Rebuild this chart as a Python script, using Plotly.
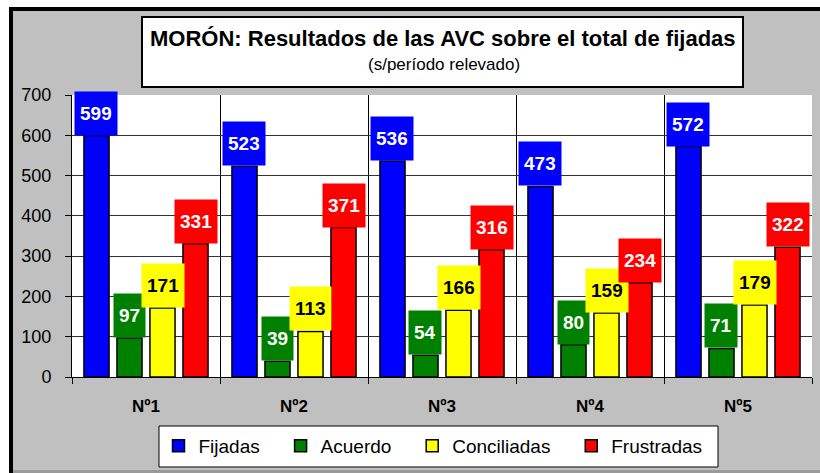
import plotly.graph_objects as go

# ---- data ----
categories = ["Nº1", "Nº2", "Nº3", "Nº4", "Nº5"]
fijadas = [599, 523, 536, 473, 572]
acuerdo = [97, 39, 54, 80, 71]
conciliadas = [171, 113, 166, 159, 179]
frustradas = [331, 371, 316, 234, 322]
series_names = ["Fijadas", "Acuerdo", "Conciliadas", "Frustradas"]
y_ticks = [0, 100, 200, 300, 400, 500, 600, 700]

title_text = "MORÓN: Resultados de las AVC sobre el total de fijadas"
subtitle_text = "(s/período relevado)"

# ---- style ----
colors = ["#0000FF", "#008000", "#FFFF00", "#FF0000"]
label_font_colors = ["white", "white", "black", "white"]
FONT = "Liberation Sans, Arial, sans-serif"
LEGEND_PAD = "\u00a0\u00a0\u00a0"  # extra spacing after legend entries

W, H = 820, 473
L, R, T, B = 72, 8, 95, 96
PW, PH = W - L - R, H - T - B
BARGAP = 0.108
BARGROUPGAP = 0.24


def px_x(px):
    return (px - L) / PW


def px_y(py):
    return (H - B - py) / PH


series = [fijadas, acuerdo, conciliadas, frustradas]

fig = go.Figure()
for k, (name, vals, col) in enumerate(zip(series_names, series, colors)):
    shown = name + (LEGEND_PAD if k < len(series_names) - 1 else "")
    fig.add_trace(go.Bar(
        x=categories, y=vals, name=shown,
        marker=dict(color=col, line=dict(color="black", width=1.5)),
    ))

# data labels: colored boxes on top of each bar
cat_px = PW / len(categories)
slot_px = cat_px * (1 - BARGAP) / len(series)
annotations = []
for i, (vals, col, fcol) in enumerate(zip(series, colors, label_font_colors)):
    shift = (i - (len(series) - 1) / 2) * slot_px
    for c, v in zip(categories, vals):
        annotations.append(dict(
            x=c, y=v, xref="x", yref="y", text=f"<b>{v}</b>",
            showarrow=False, xanchor="center", yanchor="bottom",
            xshift=shift, bgcolor=col, borderpad=5, height=33,
            font=dict(family=FONT, size=19, color=fcol),
        ))

# title texts
annotations.append(dict(
    x=px_x(442.5), y=px_y(39), xref="paper", yref="paper",
    text=f"<b>{title_text}</b>", showarrow=False,
    xanchor="center", yanchor="middle",
    font=dict(family=FONT, size=22, color="black"),
))
annotations.append(dict(
    x=px_x(444), y=px_y(65), xref="paper", yref="paper",
    text=subtitle_text, showarrow=False,
    xanchor="center", yanchor="middle",
    font=dict(family=FONT, size=17, color="black"),
))

shapes = [
    # outer frame: white strips and black top/left border
    dict(type="rect", xref="paper", yref="paper", x0=px_x(0), x1=px_x(W), y0=px_y(0), y1=px_y(7),
         fillcolor="white", line=dict(width=0), layer="below"),
    dict(type="rect", xref="paper", yref="paper", x0=px_x(0), x1=px_x(9), y0=px_y(0), y1=px_y(H),
         fillcolor="white", line=dict(width=0), layer="below"),
    dict(type="rect", xref="paper", yref="paper", x0=px_x(9), x1=px_x(W), y0=px_y(7), y1=px_y(11),
         fillcolor="black", line=dict(width=0), layer="below"),
    dict(type="rect", xref="paper", yref="paper", x0=px_x(9), x1=px_x(13), y0=px_y(7), y1=px_y(H),
         fillcolor="black", line=dict(width=0), layer="below"),
    dict(type="rect", xref="paper", yref="paper", x0=px_x(13), x1=px_x(W), y0=px_y(470), y1=px_y(H),
         fillcolor="#9a9a9a", line=dict(width=0), layer="below"),
    # title box
    dict(type="rect", xref="paper", yref="paper", x0=px_x(142), x1=px_x(743), y0=px_y(17), y1=px_y(87),
         fillcolor="white", line=dict(color="black", width=2), layer="above"),
    # legend box
    dict(type="rect", xref="paper", yref="paper", x0=px_x(159), x1=px_x(718), y0=px_y(426), y1=px_y(467),
         fillcolor="white", line=dict(color="black", width=1), layer="above"),
]

fig.update_layout(
    width=W, height=H,
    margin=dict(l=L, r=R, t=T, b=B, pad=0),
    paper_bgcolor="#C0C0C0", plot_bgcolor="white",
    barmode="group", bargap=BARGAP, bargroupgap=BARGROUPGAP,
    font=dict(family=FONT, color="black"),
    showlegend=True,
    legend=dict(
        orientation="h", x=px_x(433), xanchor="center", y=px_y(446), yanchor="middle",
        bgcolor="rgba(0,0,0,0)", borderwidth=0,
        font=dict(family=FONT, size=19, color="black"),
        itemwidth=30,
    ),
    annotations=annotations,
    shapes=shapes,
)

fig.update_xaxes(
    type="category", tickson="boundaries",
    showgrid=True, gridcolor="black", gridwidth=1,
    showline=True, linecolor="black", linewidth=1,
    ticks="outside", ticklen=6, tickcolor="black",
    tickfont=dict(family=FONT, size=17, color="black"),
    tickprefix="<b>", ticksuffix="</b>",
    ticklabelstandoff=14,
)
fig.update_yaxes(
    range=[0, 700], tickvals=y_ticks,
    showgrid=True, gridcolor="#333333", gridwidth=1,
    showline=True, linecolor="black", linewidth=1,
    ticks="outside", ticklen=6, tickcolor="black",
    tickfont=dict(family=FONT, size=18, color="black"),
    ticklabelstandoff=10, zeroline=False,
)

fig.write_html(
    "out.html",
    config={"displayModeBar": False},
    post_script="document.body.style.margin='0';document.body.style.overflow='hidden';",
)
